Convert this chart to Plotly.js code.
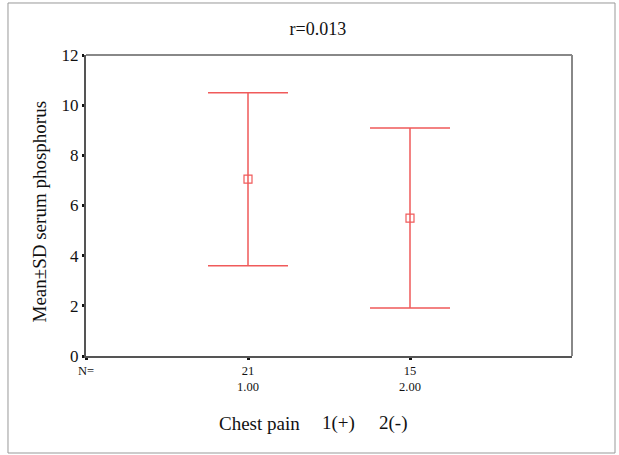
<!DOCTYPE html>
<html>
<head>
<meta charset="utf-8">
<script src="https://cdn.plot.ly/plotly-3.0.1.min.js"></script>
<style>
html,body{margin:0;padding:0;background:#fff;}
#chart{width:619px;height:455px;}
</style>
</head>
<body>
<div id="chart"></div>
<script>
var groups = [1, 2];
var groupCounts = ["21", "15"];
var groupCodes = ["1.00", "2.00"];
var means = [7.05, 5.50];
var sds = [3.45, 3.59];
var yTicks = [0, 2, 4, 6, 8, 10, 12];
var xTitleParts = ["Chest pain", "1(+)", "2(-)"];

var red = "rgb(240,90,90)";
var serif = "Liberation Serif, Times New Roman, serif";

var tickVals = [0].concat(groups);
var tickText = ["N="].concat(groups.map(function(g, i){ return groupCounts[i] + "<br>" + groupCodes[i]; }));

var trace = {
  x: groups,
  y: means,
  type: "scatter",
  mode: "markers",
  marker: {symbol: "square-open", size: 8, color: red, line: {color: red, width: 1.2}},
  error_y: {type: "data", array: sds, visible: true, color: red, thickness: 1.5, width: 40},
  hoverinfo: "none"
};

var partX = [0.2695, 0.4815, 0.5988];
var annotations = xTitleParts.map(function(t, i){
  return {text: t, xref: "paper", yref: "paper", x: partX[i], y: -0.2226, xanchor: "left", yanchor: "middle",
          showarrow: false, font: {size: 19, family: serif, color: "#111"}};
});
annotations.push({text: "Mean±SD serum phosphorus", xref: "paper", yref: "paper", x: -0.0947, y: 0.48,
  xanchor: "center", yanchor: "middle", textangle: -90, showarrow: false,
  font: {size: 19, family: serif, color: "#111"}});

var layout = {
  width: 619, height: 455,
  margin: {l: 86, r: 47, t: 55, b: 99},
  paper_bgcolor: "#fff", plot_bgcolor: "#fff",
  showlegend: false,
  font: {family: serif, color: "#111"},
  title: {text: "r=0.013", x: 0.477, xref: "paper", xanchor: "center", y: 0.938, yref: "container", yanchor: "middle",
          font: {size: 18, family: serif, color: "#111"}},
  xaxis: {
    range: [0, 3], tickmode: "array", tickvals: tickVals, ticktext: tickText,
    showgrid: false, zeroline: false, showline: true, linecolor: "#555", linewidth: 2,
    ticks: "outside", ticklen: 2, tickwidth: 3, tickcolor: "#111",
    tickfont: {size: 12.5, family: serif, color: "#111"}
  },
  yaxis: {
    range: [0, 12], tickmode: "array", tickvals: yTicks,
    showgrid: false, zeroline: false, showline: true, linecolor: "#555", linewidth: 2,
    ticks: "outside", ticklen: 2, tickwidth: 3, tickcolor: "#111",
    tickfont: {size: 17, family: serif, color: "#111"}
  },
  shapes: [
    {type: "line", xref: "paper", yref: "paper", x0: 0, x1: 1, y0: 1, y1: 1, line: {color: "#888", width: 2}},
    {type: "line", xref: "paper", yref: "paper", x0: 1, x1: 1, y0: 0, y1: 1, line: {color: "#888", width: 2}},
    {type: "rect", xref: "paper", yref: "paper", x0: -0.1605, x1: 1.0885, y0: -0.3223, y1: 1.1728, line: {color: "#999", width: 1}}
  ],
  annotations: annotations
};

Plotly.newPlot("chart", [trace], layout, {displayModeBar: false, staticPlot: true});
</script>
</body>
</html>
